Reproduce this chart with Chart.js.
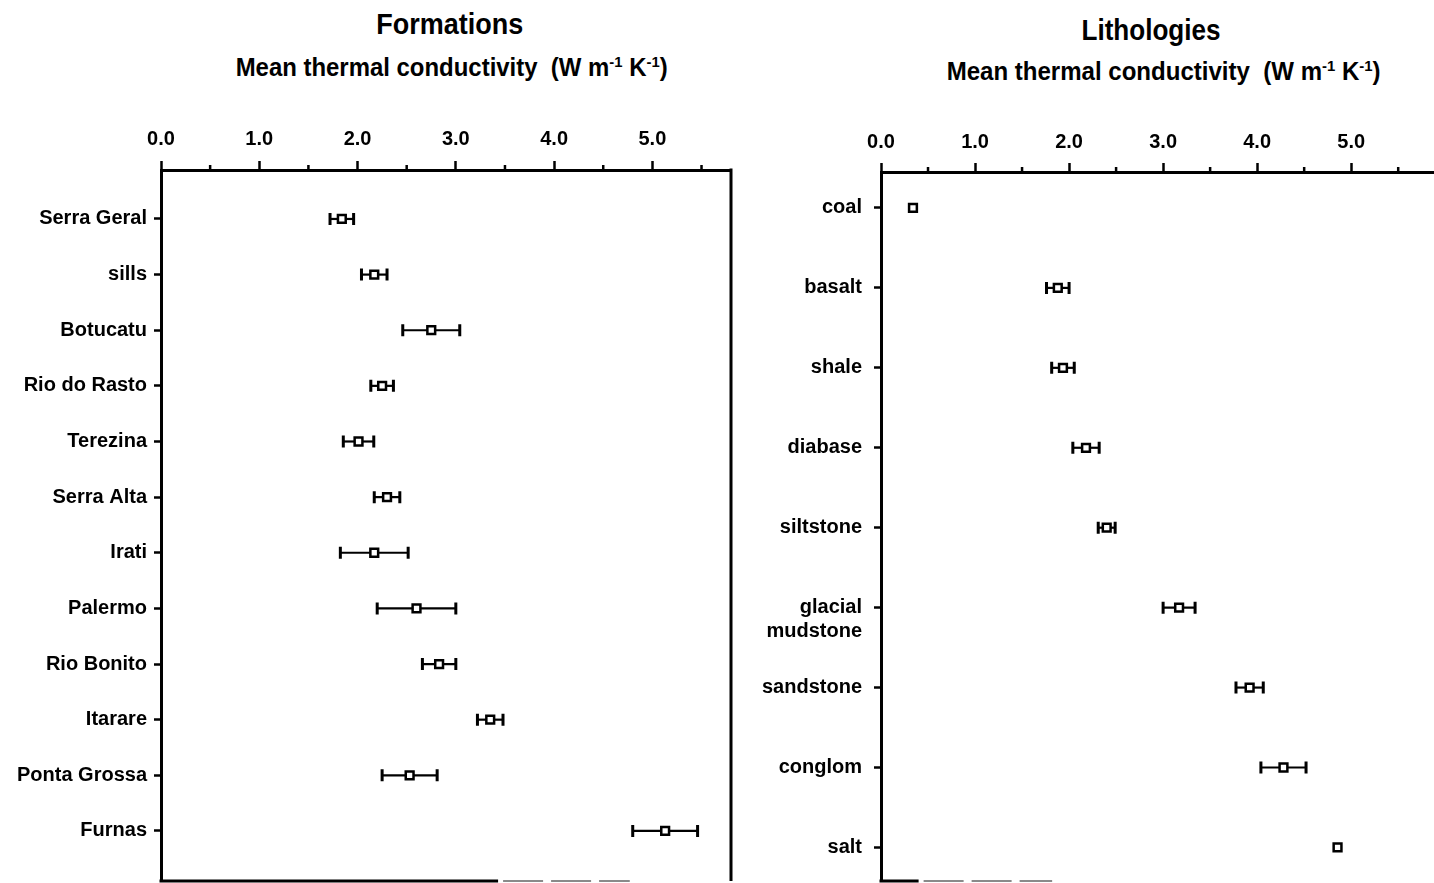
<!DOCTYPE html>
<html>
<head>
<meta charset="utf-8">
<title>Mean thermal conductivity — formations and lithologies</title>
<script src="https://cdn.jsdelivr.net/npm/chart.js@4.4.1/dist/chart.umd.min.js"></script>
<style>
  html, body { margin: 0; padding: 0; background: #fff; }
  body { width: 1434px; height: 883px; position: relative; overflow: hidden;
         font-family: "Liberation Sans", Arial, Helvetica, sans-serif; color: #000; }
  .panel { position: absolute; top: 0; height: 889px; }
  #leftPanel { left: 0; width: 760px; }
  #rightPanel { left: 760px; width: 681px; }
  .t { position: absolute; white-space: nowrap; font-weight: bold; line-height: 1;
       transform-origin: 50% 50%; }
  .t sup { font-size: 62%; vertical-align: 0; position: relative; top: -0.55em; }
  .title { font-size: 30px; }
  .sub { font-size: 25px; }
</style>
</head>
<body>
<div class="t title" data-cx="450" data-w="147" style="top:9px">Formations</div>
<div class="t sub" data-cx="452" data-w="432" style="top:55px">Mean thermal conductivity&nbsp; (W m<sup>-1</sup> K<sup>-1</sup>)</div>
<div class="t title" data-cx="1151" data-w="139" style="top:15px">Lithologies</div>
<div class="t sub" data-cx="1164" data-w="434" style="top:59px">Mean thermal conductivity&nbsp; (W m<sup>-1</sup> K<sup>-1</sup>)</div>

<div class="panel" id="leftPanel"><canvas id="formations"></canvas></div>
<div class="panel" id="rightPanel"><canvas id="lithologies"></canvas></div>

<script>
// Mean thermal conductivity (W m-1 K-1) with its ± spread, per formation
const formationNames = ['Serra Geral', 'sills', 'Botucatu', 'Rio do Rasto', 'Terezina', 'Serra Alta',
                        'Irati', 'Palermo', 'Rio Bonito', 'Itarare', 'Ponta Grossa', 'Furnas'];
const formationMeans = [1.84, 2.17, 2.75, 2.25, 2.01, 2.30, 2.17, 2.60, 2.83, 3.35, 2.53, 5.13];
const formationErrs  = [0.12, 0.13, 0.29, 0.115, 0.155, 0.13, 0.345, 0.40, 0.17, 0.13, 0.28, 0.33];

// Same quantity per lithology
const lithologyNames = ['coal', 'basalt', 'shale', 'diabase', 'siltstone', ['', 'glacial', 'mudstone'],
                        'sandstone', 'conglom', 'salt'];
const lithologyMeans = [0.34, 1.88, 1.935, 2.18, 2.40, 3.17, 3.92, 4.28, 4.855];
const lithologyErrs  = [0, 0.12, 0.12, 0.14, 0.09, 0.17, 0.145, 0.24, 0];

const conductivityTicks = [0, 1, 2, 3, 4, 5];
const minorTicks = [0.5, 1.5, 2.5, 3.5, 4.5, 5.5];

const LABEL_FONT = { family: '"Liberation Sans", Arial, sans-serif', size: 20, weight: 'bold' };

// Horizontal error bars with end caps, drawn under the markers
const errorBars = {
  id: 'errorBars',
  beforeDatasetsDraw(chart) {
    const { ctx, scales: { x, y } } = chart;
    ctx.save();
    ctx.strokeStyle = '#000';
    chart.data.datasets[0].data.forEach(p => {
      if (!p.err) return;
      const xl = x.getPixelForValue(p.x - p.err);
      const xr = x.getPixelForValue(p.x + p.err);
      const py = y.getPixelForValue(p.y);
      ctx.lineWidth = 2.2;
      ctx.beginPath(); ctx.moveTo(xl, py); ctx.lineTo(xr, py); ctx.stroke();
      ctx.lineWidth = 3;
      ctx.beginPath();
      ctx.moveTo(xl, py - 6); ctx.lineTo(xl, py + 6);
      ctx.moveTo(xr, py - 6); ctx.lineTo(xr, py + 6);
      ctx.stroke();
    });
    ctx.restore();
  }
};

// Minor ticks on the top axis plus the remaining sides of the frame
const frame = {
  id: 'frame',
  afterDraw(chart, args, opts) {
    const { ctx, chartArea: { left, right, top, bottom }, scales: { x } } = chart;
    ctx.save();
    ctx.strokeStyle = '#000';
    ctx.lineWidth = 2.5;
    ctx.beginPath();
    minorTicks.forEach(v => {
      if (v > x.max) return;
      const px = x.getPixelForValue(v);
      ctx.moveTo(px, top); ctx.lineTo(px, top - 5);
    });
    ctx.stroke();
    if (opts.rightSide) {
      ctx.lineWidth = 3;
      ctx.beginPath(); ctx.moveTo(right, top - 1.5); ctx.lineTo(right, bottom); ctx.stroke();
    }
    // bottom edge: solid part, then a faint broken part
    const solidEnd = x.getPixelForValue(opts.solidTo);
    const fadeEnd = x.getPixelForValue(opts.fadeTo);
    ctx.lineWidth = 3;
    ctx.beginPath(); ctx.moveTo(left - 1.5, bottom); ctx.lineTo(solidEnd, bottom); ctx.stroke();
    ctx.strokeStyle = '#8a8a8a';
    ctx.lineWidth = 2;
    ctx.setLineDash([40, 8]);
    ctx.beginPath(); ctx.moveTo(solidEnd + 5, bottom); ctx.lineTo(fadeEnd, bottom); ctx.stroke();
    ctx.restore();
  }
};

function buildChart(canvasId, names, means, errs, cfg) {
  const points = means.map((m, i) => ({ x: m, y: i + 1, err: errs[i] }));
  return new Chart(document.getElementById(canvasId), {
    type: 'scatter',
    data: {
      datasets: [{
        data: points,
        pointStyle: 'rect',
        pointRadius: 5.5,
        pointHoverRadius: 5.5,
        borderWidth: 2.5,
        borderColor: '#000',
        backgroundColor: '#fff'
      }]
    },
    options: {
      responsive: true,
      maintainAspectRatio: false,
      animation: false,
      events: [],
      layout: { padding: { top: 0, left: 0, right: cfg.padRight, bottom: 3 } },
      plugins: {
        legend: { display: false },
        tooltip: { enabled: false },
        frame: { rightSide: cfg.rightSide, solidTo: cfg.solidTo, fadeTo: cfg.fadeTo }
      },
      scales: {
        x: {
          type: 'linear',
          position: 'top',
          min: 0,
          max: cfg.xMax,
          afterBuildTicks: s => { s.ticks = conductivityTicks.map(v => ({ value: v })); },
          afterFit: s => { s.height = cfg.axisTop; s.paddingLeft = 0; s.paddingRight = 0; },
          ticks: {
            includeBounds: false,
            autoSkip: false,
            maxRotation: 0,
            padding: cfg.xPad,
            color: '#000',
            font: LABEL_FONT,
            callback: v => Number(v).toFixed(1)
          },
          grid: { drawOnChartArea: false, drawTicks: true, tickLength: 9, tickWidth: 2.5, tickColor: '#000' },
          border: { display: true, color: '#000', width: 3 }
        },
        y: {
          type: 'linear',
          reverse: true,
          min: cfg.yMin,
          max: cfg.yMax,
          afterBuildTicks: s => { s.ticks = names.map((_, i) => ({ value: i + 1 })); },
          afterFit: s => { s.width = cfg.axisLeft; s.paddingTop = 0; s.paddingBottom = 0; },
          ticks: {
            includeBounds: false,
            autoSkip: false,
            padding: cfg.yPad,
            color: '#000',
            font: LABEL_FONT,
            callback: v => names[Math.round(v) - 1]
          },
          grid: { drawOnChartArea: false, drawTicks: true, tickLength: 7, tickWidth: 2.5, tickColor: '#000' },
          border: { display: true, color: '#000', width: 3 }
        }
      }
    },
    plugins: [errorBars, frame]
  });
}

buildChart('formations', formationNames, formationMeans, formationErrs, {
  xMax: 5.8, yMin: 0.12, yMax: 12.9, axisTop: 170, axisLeft: 161, padRight: 29,
  xPad: 10, yPad: 7, rightSide: true, solidTo: 3.43, fadeTo: 4.77
});

buildChart('lithologies', lithologyNames, lithologyMeans, lithologyErrs, {
  xMax: 5.87, yMin: 0.55, yMax: 9.42, axisTop: 172, axisLeft: 121, padRight: 0,
  xPad: 9, yPad: 12, rightSide: false, solidTo: 0.4, fadeTo: 1.82
});

// Center each heading on its panel and set its width
document.querySelectorAll('.t').forEach(el => {
  const w = el.getBoundingClientRect().width;
  const k = Number(el.dataset.w) / w;
  el.style.left = (Number(el.dataset.cx) - w / 2) + 'px';
  el.style.transform = 'scaleX(' + k.toFixed(4) + ')';
});
</script>
</body>
</html>
